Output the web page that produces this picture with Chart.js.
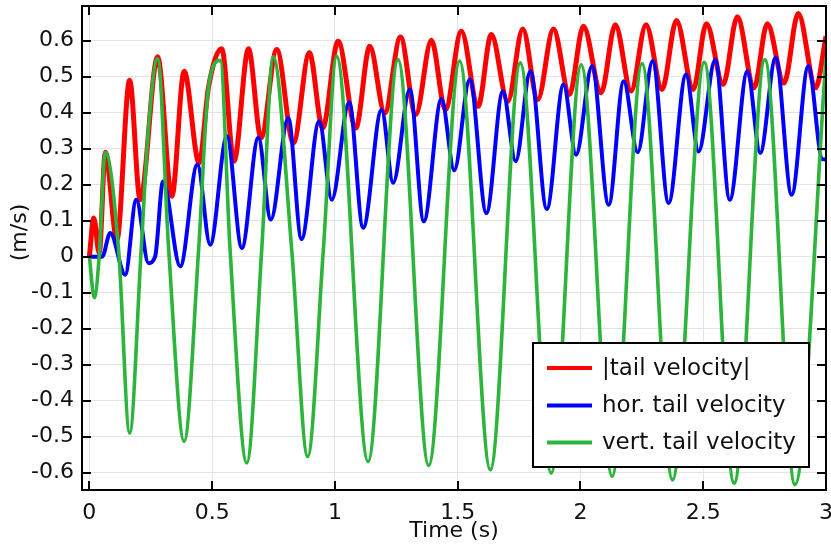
<!DOCTYPE html>
<html>
<head>
<meta charset="utf-8">
<style>
  html, body { margin: 0; padding: 0; background: #fff; }
  #wrap { position: relative; width: 831px; height: 545px; }
</style>
<script src="https://cdn.jsdelivr.net/npm/chart.js@4.4.1/dist/chart.umd.min.js"></script>
</head>
<body>
<div id="wrap"><canvas id="velChart" width="831" height="545"></canvas></div>
<script>
// values (extrema and a few crossings)
const seriesLabels = ['|tail velocity|', 'hor. tail velocity', 'vert. tail velocity'];
const seriesColors = ['#ff0000', '#0000ff', '#2cb43c'];
const yAxisTitle = '(m/s)';

const magTime = [0, 0.018, 0.04, 0.065, 0.112, 0.164, 0.207, 0.278, 0.336, 0.386, 0.447, 0.485, 0.539, 0.589, 0.648, 0.699,
  0.763, 0.831, 0.896, 0.95, 1.013, 1.085, 1.142, 1.203, 1.267, 1.329, 1.393, 1.45, 1.515, 1.583, 1.637, 1.704,
  1.765, 1.826, 1.89, 1.955, 2.012, 2.084, 2.142, 2.206, 2.267, 2.332, 2.391, 2.459, 2.513, 2.581, 2.639, 2.707,
  2.761, 2.829, 2.887, 2.958, 3.0];
const magVel = [0, 0.107, 0.01, 0.29, 0.047, 0.49, 0.158, 0.555, 0.168, 0.515, 0.26, 0.47, 0.577, 0.265, 0.577, 0.33,
  0.575, 0.316, 0.566, 0.357, 0.598, 0.357, 0.584, 0.399, 0.61, 0.394, 0.601, 0.408, 0.626, 0.417, 0.617, 0.431,
  0.632, 0.436, 0.632, 0.45, 0.64, 0.455, 0.644, 0.46, 0.644, 0.464, 0.656, 0.464, 0.647, 0.478, 0.666, 0.469,
  0.647, 0.482, 0.675, 0.469, 0.612];

const horTime = [0, 0.052, 0.085, 0.146, 0.191, 0.241, 0.268, 0.3, 0.37, 0.44, 0.492, 0.56, 0.621, 0.688, 0.739,
  0.81, 0.864, 0.936, 0.987, 1.058, 1.115, 1.19, 1.237, 1.305, 1.362, 1.434, 1.486, 1.549, 1.617, 1.684, 1.736,
  1.796, 1.863, 1.931, 1.982, 2.047, 2.115, 2.176, 2.233, 2.294, 2.359, 2.43, 2.481, 2.549, 2.608, 2.68, 2.732,
  2.795, 2.86, 2.928, 2.985, 3.0];
const horVel = [0, 0, 0.066, -0.05, 0.158, -0.018, 0.001, 0.209, -0.027, 0.256, 0.033, 0.334, 0.024, 0.33, 0.103,
  0.385, 0.049, 0.376, 0.158, 0.429, 0.08, 0.408, 0.205, 0.464, 0.098, 0.438, 0.24, 0.492, 0.121, 0.459, 0.265,
  0.515, 0.132, 0.478, 0.283, 0.529, 0.144, 0.487, 0.29, 0.543, 0.149, 0.506, 0.292, 0.547, 0.158, 0.515, 0.288,
  0.552, 0.172, 0.529, 0.271, 0.27];

const vertTime = [0, 0.02, 0.04, 0.065, 0.119, 0.164, 0.211, 0.24, 0.278, 0.323, 0.386, 0.445, 0.485, 0.533, 0.573,
  0.641, 0.702, 0.749, 0.824, 0.889, 0.953, 1.007, 1.135, 1.257, 1.382, 1.508, 1.633, 1.755, 1.881, 2.003, 2.129,
  2.251, 2.375, 2.504, 2.626, 2.751, 2.874, 3.0];
const vertVel = [0, -0.114, 0, 0.29, 0.02, -0.49, 0.02, 0.35, 0.55, 0.02, -0.513, 0.02, 0.47, 0.545, 0.02,
  -0.573, 0.02, 0.555, 0.02, -0.555, 0.02, 0.556, -0.569, 0.547, -0.58, 0.543, -0.592, 0.538, -0.601, 0.533, -0.61,
  0.536, -0.62, 0.54, -0.629, 0.547, -0.633, 0.553];

const xTickStep = 0.5;
const yTickStep = 0.1;

function toPoints(ts, vs) {
  return ts.map((t, i) => ({ x: t, y: vs[i] }));
}

const fontFamily = '"DejaVu Sans", Verdana, sans-serif';

// inward ticks on all four sides plus a closed frame
const frameTicks = {
  id: 'frameTicks',
  afterDatasetsDraw(chart) {
    const { ctx, chartArea: a, scales } = chart;
    ctx.save();
    ctx.strokeStyle = '#000';
    ctx.lineWidth = 2;
    const len = 9;
    scales.x.ticks.forEach(t => {
      const px = Math.round(scales.x.getPixelForValue(t.value));
      ctx.beginPath();
      ctx.moveTo(px, a.bottom); ctx.lineTo(px, a.bottom - len);
      ctx.moveTo(px, a.top); ctx.lineTo(px, a.top + len);
      ctx.stroke();
    });
    scales.y.ticks.forEach(t => {
      const py = Math.round(scales.y.getPixelForValue(t.value));
      ctx.beginPath();
      ctx.moveTo(a.left, py); ctx.lineTo(a.left + len, py);
      ctx.moveTo(a.right, py); ctx.lineTo(a.right - len, py);
      ctx.stroke();
    });
    ctx.strokeRect(a.left, a.top, a.right - a.left, a.bottom - a.top);
    ctx.restore();
  }
};

// y title sits a bit above the axis middle in the original
const yTitle = {
  id: 'yTitle',
  afterDraw(chart) {
    const { ctx, scales } = chart;
    ctx.save();
    ctx.translate(20, scales.y.getPixelForValue(0.067));
    ctx.rotate(-Math.PI / 2);
    ctx.font = '22px ' + fontFamily;
    ctx.fillStyle = '#111';
    ctx.textAlign = 'center';
    ctx.textBaseline = 'middle';
    ctx.fillText(yAxisTitle, 0, 0);
    ctx.restore();
  }
};

// boxed legend in the lower right corner of the plot
const boxLegend = {
  id: 'boxLegend',
  afterDatasetsDraw(chart) {
    const { ctx, chartArea: a } = chart;
    const x0 = a.right - 293, y0 = a.bottom - 147, w = 276, h = 124;
    ctx.save();
    ctx.fillStyle = '#fff';
    ctx.fillRect(x0, y0, w, h);
    ctx.strokeStyle = '#000';
    ctx.lineWidth = 2;
    ctx.strokeRect(x0, y0, w, h);
    ctx.font = '23px ' + fontFamily;
    ctx.textBaseline = 'middle';
    ctx.textAlign = 'left';
    const rows = [a.bottom - 122, a.bottom - 84.5, a.bottom - 47.5];
    chart.data.datasets.forEach((ds, i) => {
      ctx.strokeStyle = ds.borderColor;
      ctx.lineWidth = 4;
      ctx.beginPath();
      ctx.moveTo(x0 + 14, rows[i]);
      ctx.lineTo(x0 + 59, rows[i]);
      ctx.stroke();
      ctx.fillStyle = '#111';
      ctx.fillText(ds.label, x0 + 69, rows[i] + 1);
    });
    ctx.restore();
  }
};

const ctx = document.getElementById('velChart').getContext('2d');
new Chart(ctx, {
  type: 'line',
  data: {
    datasets: [
      { label: seriesLabels[0], data: toPoints(magTime, magVel), borderColor: seriesColors[0], borderWidth: 5, order: 3 },
      { label: seriesLabels[1], data: toPoints(horTime, horVel), borderColor: seriesColors[1], borderWidth: 4, order: 2 },
      { label: seriesLabels[2], data: toPoints(vertTime, vertVel), borderColor: seriesColors[2], borderWidth: 3.6, order: 1 }
    ]
  },
  options: {
    responsive: false,
    animation: false,
    devicePixelRatio: 1,
    layout: { padding: { top: 6, right: 5, left: 0, bottom: 0 } },
    elements: {
      point: { radius: 0 },
      line: { cubicInterpolationMode: 'monotone', fill: false }
    },
    plugins: {
      legend: { display: false },
      tooltip: { enabled: false }
    },
    scales: {
      x: {
        type: 'linear',
        min: -0.03,
        max: 3.0,
        afterFit: s => { s.height = 55; s.paddingLeft = 0; s.paddingRight = 0; },
        grid: { color: '#e3e3e3', lineWidth: 1, drawTicks: false },
        border: { display: true, color: '#000', width: 2 },
        ticks: {
          stepSize: xTickStep,
          includeBounds: false,
          padding: 10,
          color: '#111',
          font: { family: fontFamily, size: 22 },
          maxRotation: 0,
          callback: v => String(Number(v.toFixed(1)))
        },
        title: {
          display: true,
          text: 'Time (s)',
          color: '#111',
          font: { family: fontFamily, size: 22, lineHeight: 1.2 },
          padding: { top: 0, bottom: 1 }
        }
      },
      y: {
        min: -0.648,
        max: 0.696,
        afterFit: s => { s.width = 82; s.paddingTop = 0; s.paddingBottom = 0; },
        grid: { color: '#e3e3e3', lineWidth: 1, drawTicks: false },
        border: { display: true, color: '#000', width: 2 },
        ticks: {
          stepSize: yTickStep,
          includeBounds: false,
          padding: 8,
          color: '#111',
          font: { family: fontFamily, size: 22 },
          callback: v => String(Number(v.toFixed(1)))
        },
        title: { display: false }
      }
    }
  },
  plugins: [frameTicks, boxLegend, yTitle]
});
</script>
</body>
</html>
